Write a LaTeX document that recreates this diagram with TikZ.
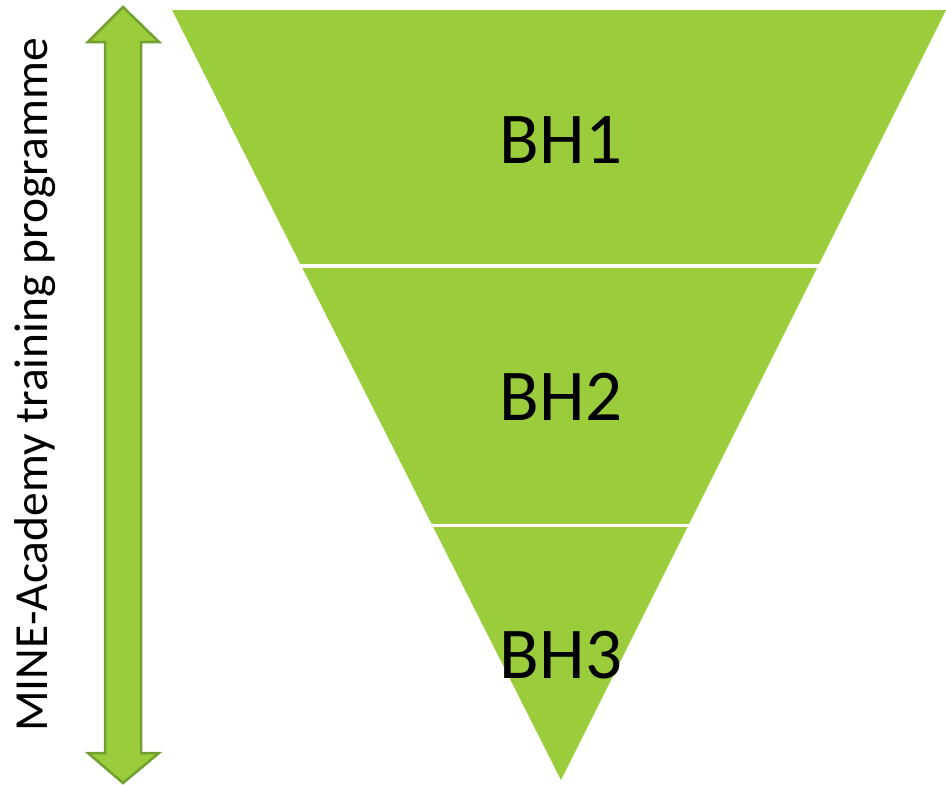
\documentclass[tikz,border=0pt]{standalone}
\usepackage{fontspec}
\setmainfont{Carlito}
\definecolor{leaf}{HTML}{9ACC3C}
\definecolor{leafdark}{HTML}{72A02E}
\tikzset{
  level/.style={font=\fontsize{73}{80}\selectfont, text=black, inner sep=0pt},
  sidelabel/.style={font=\fontsize{47.5}{54}\selectfont, text=black, inner sep=0pt, rotate=90},
  gap/.style={draw=white, line width=3.5pt}
}
\begin{document}
\begin{tikzpicture}[x=1pt,y=-1pt]
\useasboundingbox (0,0) rectangle (946,785);
% funnel
\fill[leaf] (172,10) -- (946,10) -- (561,780) -- cycle;
\draw[gap] (280,266) -- (840,266);
\draw[gap] (410,525.5) -- (710,525.5);
\node[level] (bh1) at (561,140) {BH1};
\node[level] (bh2) at (561,397) {BH2};
\node[level] (bh3) at (561,655) {BH3};
% double arrow
\draw[leafdark, fill=leaf, line width=2.5pt, line join=miter]
  (123,7) -- (159,42) -- (141,42) -- (141,753) -- (159,753) -- (123,783)
  -- (88,753) -- (105,753) -- (105,42) -- (88,42) -- cycle;
\node[sidelabel] (lab) at (35,385) {MINE-Academy training programme};
\end{tikzpicture}
\end{document}
